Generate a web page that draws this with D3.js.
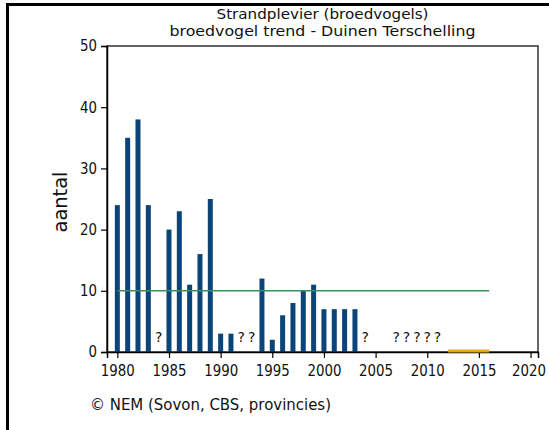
<!DOCTYPE html>
<html>
<head>
<meta charset="utf-8">
<script src="https://cdn.jsdelivr.net/npm/d3@7"></script>
<style>
  body { margin: 0; background: #fff; }
  text { font-family: "DejaVu Sans", sans-serif; fill: #111; }
</style>
</head>
<body>
<div id="chart"></div>
<script>
// data (null = unknown, shown as "?")
var years = [1980, 1981, 1982, 1983, 1984, 1985, 1986, 1987, 1988, 1989, 1990, 1991,
             1992, 1993, 1994, 1995, 1996, 1997, 1998, 1999, 2000, 2001, 2002, 2003];
var counts = [24, 35, 38, 24, null, 20, 23, 11, 16, 25, 3, 3,
              null, null, 12, 2, 6, 8, 10, 11, 7, 7, 7, 7];
var unknownYears = [1984, 1992, 1993, 2004, 2007, 2008, 2009, 2010, 2011];
var targetLine = { from: 1980, to: 2016, value: 10 };
var recentLine = { from: 2012, to: 2016, value: 0 };
var yTicks = [0, 10, 20, 30, 40, 50];
var xTicks = [1980, 1985, 1990, 1995, 2000, 2005, 2010, 2015, 2020];
var titleLines = ["Strandplevier (broedvogels)", "broedvogel trend - Duinen Terschelling"];

var svgWidth = 549;
var svgHeight = 430;
var margin = { top: 46, right: 11, bottom: 78, left: 107 };
var width = svgWidth - margin.left - margin.right;
var height = svgHeight - margin.top - margin.bottom;

var svg = d3.select("#chart")
    .append("svg")
    .attr("width", svgWidth)
    .attr("height", svgHeight);

// outer border (top and left only visible)
svg.append("path")
    .attr("d", "M7.5,430 V4.5 H549")
    .attr("fill", "none")
    .attr("stroke", "#000")
    .attr("stroke-width", 3);

var chartGroup = svg.append("g")
    .attr("transform", `translate(${margin.left}, ${margin.top})`);

var x = d3.scaleLinear().domain([1979, 2020.72]).range([0, width]);
var y = d3.scaleLinear().domain([0, 50]).range([height, 0]);

// plot frame
chartGroup.append("rect")
    .attr("width", width)
    .attr("height", height)
    .attr("fill", "none")
    .attr("stroke", "#333")
    .attr("stroke-width", 1.5);

// bars
var barData = years.map((yr, i) => ({ year: yr, value: counts[i] })).filter(d => d.value !== null);
chartGroup.selectAll(".bar")
    .data(barData)
    .enter()
    .append("rect")
    .attr("class", "bar")
    .attr("x", d => x(d.year) - 2.5)
    .attr("width", 5)
    .attr("y", d => y(d.value))
    .attr("height", d => height - y(d.value))
    .attr("fill", "#0b4478");

// question marks for unknown years
chartGroup.selectAll(".unknown")
    .data(unknownYears)
    .enter()
    .append("text")
    .attr("class", "unknown")
    .attr("x", d => x(d))
    .attr("y", y(0) - 10)
    .attr("text-anchor", "middle")
    .attr("font-size", "14px")
    .text("?");

// green reference line
chartGroup.append("line")
    .attr("x1", x(targetLine.from))
    .attr("x2", x(targetLine.to))
    .attr("y1", y(targetLine.value))
    .attr("y2", y(targetLine.value))
    .attr("stroke", "#3a8f5a")
    .attr("stroke-width", 1.5);

// axes
var leftAxis = d3.axisLeft(y).tickValues(yTicks).tickSize(6).tickPadding(4);
var bottomAxis = d3.axisBottom(x).tickValues(xTicks).tickSize(6).tickPadding(7).tickFormat(d3.format("d"));

var yAxis = chartGroup.append("g").call(leftAxis);
var xAxis = chartGroup.append("g")
    .attr("transform", `translate(0, ${height})`)
    .call(bottomAxis);

[xAxis, yAxis].forEach(function(ax) {
    ax.select(".domain").attr("stroke", "#000").attr("stroke-width", 1.5);
    ax.selectAll(".tick line").attr("stroke", "#000").attr("stroke-width", 1.2);
    ax.selectAll(".tick text")
        .attr("font-family", "DejaVu Sans, sans-serif")
        .attr("font-size", "15px")
        .attr("fill", "#111")
        .attr("lengthAdjust", "spacingAndGlyphs")
        .attr("textLength", function() { return this.textContent.length * 8.5; });
});
xAxis.selectAll(".tick text").attr("dy", "0.71em").attr("y", 13);
// last label hugs the edge, pull it in a touch
xAxis.selectAll(".tick text").filter(d => d === 2020).attr("x", -2);

// orange recent segment on the baseline
chartGroup.append("line")
    .attr("x1", x(recentLine.from))
    .attr("x2", x(recentLine.to))
    .attr("y1", y(recentLine.value) - 1)
    .attr("y2", y(recentLine.value) - 1)
    .attr("stroke", "#f0a020")
    .attr("stroke-width", 3);

// titles
var titleX = margin.left + width / 2;
svg.append("text")
    .attr("x", titleX).attr("y", 19)
    .attr("text-anchor", "middle")
    .attr("font-size", "14px")
    .attr("textLength", 212).attr("lengthAdjust", "spacingAndGlyphs")
    .text(titleLines[0]);
svg.append("text")
    .attr("x", titleX).attr("y", 36)
    .attr("text-anchor", "middle")
    .attr("font-size", "14px")
    .attr("textLength", 306).attr("lengthAdjust", "spacingAndGlyphs")
    .text(titleLines[1]);

// y axis label
svg.append("text")
    .attr("transform", "translate(67, 202) rotate(-90)")
    .attr("text-anchor", "middle")
    .attr("font-size", "20px")
    .attr("textLength", 61).attr("lengthAdjust", "spacingAndGlyphs")
    .text("aantal");

// source
svg.append("text")
    .attr("x", 90).attr("y", 410)
    .attr("font-size", "16px")
    .attr("textLength", 241).attr("lengthAdjust", "spacingAndGlyphs")
    .text("© NEM (Sovon, CBS, provincies)");
</script>
</body>
</html>
